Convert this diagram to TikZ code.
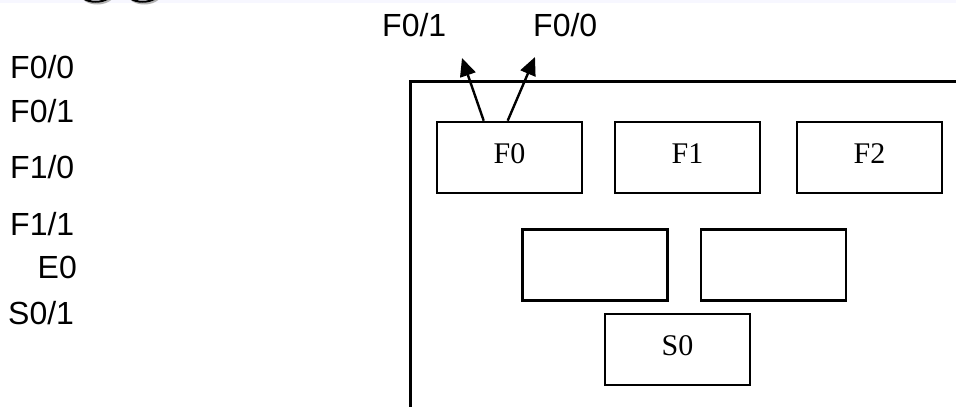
\documentclass[tikz,border=0pt]{standalone}
\usepackage{fontspec}
\setmainfont{Liberation Serif}
\newfontfamily\labfont{Liberation Sans}
\usetikzlibrary{arrows.meta,calc}
\tikzset{
  box/.style={draw=black, line width=2.6pt, inner sep=0pt, minimum width=145pt, minimum height=71pt,
    font=\fontsize{30}{32}\selectfont, text height=20pt, text depth=9pt},
  lab/.style={font=\labfont\fontsize{32}{34}\selectfont, inner sep=0pt, anchor=base west},
  arr/.style={line width=2.4pt, -{Triangle[length=18pt,width=16pt]}},
  frame/.style={line width=3pt}
}
\begin{document}
\begin{tikzpicture}[x=1pt, y=-1pt]
\clip (0,0) rectangle (956,407);
\fill[white] (0,0) rectangle (956,407);
\fill[blue!3] (0,0) rectangle (956,3);
% cropped glyph remnants at the top edge
\draw[gray!60, line width=2pt] (84,-1) .. controls (90,5) and (104,5) .. (111,-1);
\draw[black, line width=2pt] (83,-2) .. controls (89,3) and (102,3) .. (109,-2);
\draw[gray!60, line width=2pt] (131,-1) .. controls (137,5) and (151,5) .. (158,-1);
\draw[black, line width=2pt] (130,-2) .. controls (136,3) and (149,3) .. (156,-2);

% left labels
\node[lab] (l1) at (10,78) {F0/0};
\node[lab] (l2) at (10,122) {F0/1};
\node[lab] (l3) at (10,178) {F1/0};
\node[lab] (l4) at (10,235) {F1/1};
\node[lab, anchor=base east] (l5) at (77,278) {E0};
\node[lab] (l6) at (8,324) {S0/1};

% top labels
\node[lab] (t01) at (382,36) {F0/1};
\node[lab] (t00) at (533,36) {F0/0};

% frame
\draw[frame] (410,420) -- (410,81.5) -- (970,81.5);

% boxes
\node[box] (F0) at (509.5,157.5) {F0};
\node[box] (F1) at (687.5,157.5) {F1};
\node[box] (F2) at (869.5,157.5) {F2};
\node[box] (A) at (595,265) {};
\node[box] (B) at (773.5,265) {};
\node[box] (S0) at (677.5,349.5) {S0};

% arrows
\coordinate (s1) at ($(F0.north west)+(48,0)$);
\coordinate (s2) at ($(F0.north west)+(72,0)$);
\coordinate (e1) at (462,58);
\coordinate (e2) at (535,57);
\draw[arr] (s1) -- (e1);
\draw[arr] (s2) -- (e2);
\end{tikzpicture}
\end{document}
